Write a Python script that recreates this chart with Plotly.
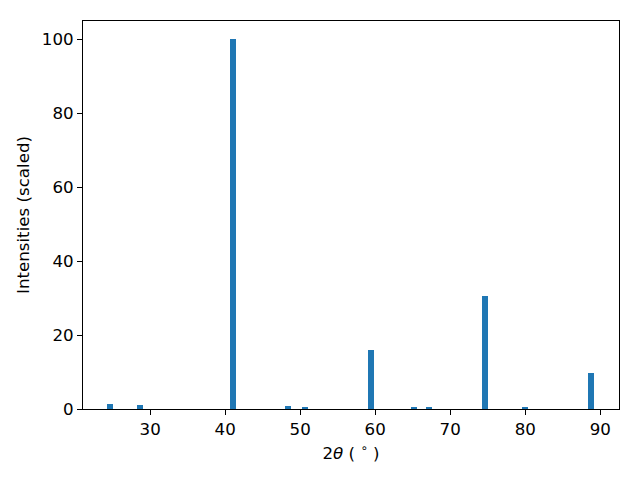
import plotly.graph_objects as go

two_theta = [24.7, 28.7, 41.0, 48.4, 50.7, 59.4, 65.2, 67.2, 74.6, 80.0, 88.8]
intensity = [1.4, 1.1, 100.0, 0.8, 0.3, 16.0, 0.3, 0.6, 30.6, 0.3, 9.8]
bar_width = 0.8

FS = 16.67

fig = go.Figure(go.Bar(x=two_theta, y=intensity, width=bar_width,
                       marker=dict(color="#1f77b4", line=dict(width=0))))

axis_common = dict(showline=True, linecolor="black", linewidth=1, mirror=True,
                   ticks="outside", ticklen=5, tickwidth=1, tickcolor="black",
                   showgrid=False, zeroline=False, automargin=False,
                   tickfont=dict(family="DejaVu Sans", size=FS, color="black"))

fig.update_xaxes(range=[21.05, 92.5], tickvals=[30, 40, 50, 60, 70, 80, 90],
                 title=dict(text="2<i>θ</i> ( <sup>∘</sup> )", standoff=9,
                            font=dict(family="DejaVu Sans", size=FS, color="black")),
                 **axis_common)
fig.update_yaxes(range=[0, 105], tickvals=[0, 20, 40, 60, 80, 100],
                 title=dict(text="Intensities (scaled)", standoff=8,
                            font=dict(family="DejaVu Sans", size=FS, color="black")),
                 **axis_common)

# page body has an 8px default margin; compensate so the plot area lands where the reference's does
fig.update_layout(width=632, height=472, margin=dict(l=75, r=21, t=13, b=71),
                  plot_bgcolor="white", paper_bgcolor="white", showlegend=False,
                  bargap=0)

fig.write_html("out.html")
